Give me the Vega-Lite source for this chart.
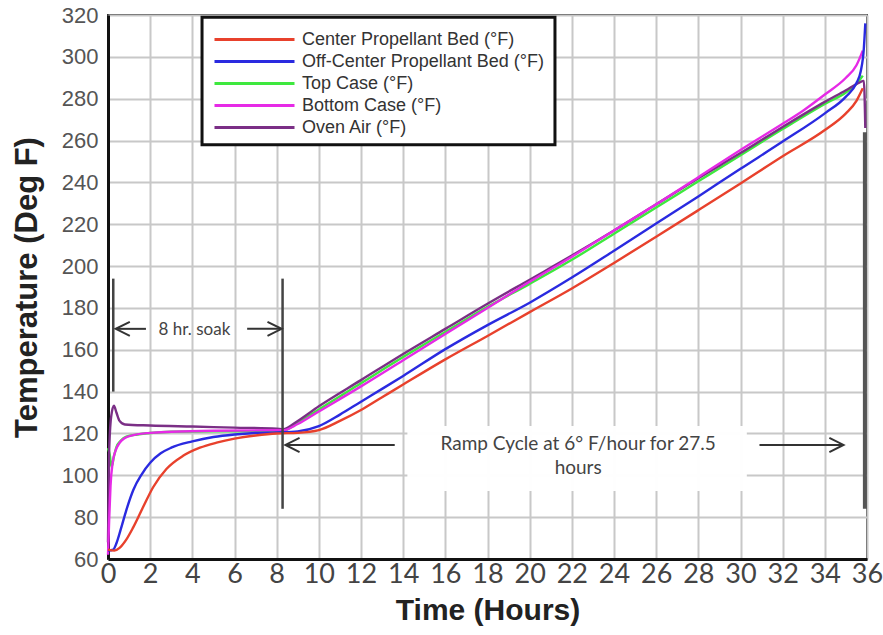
{
  "$schema": "https://vega.github.io/schema/vega-lite/v6.json",
  "width": 759,
  "height": 544,
  "autosize": "none",
  "padding": {"left": 108, "top": 15, "right": 16, "bottom": 76},
  "background": "white",
  "config": {
    "view": {"stroke": "#333", "strokeWidth": 2},
    "font": "Liberation Sans"
  },
  "datasets": {
    "temps": [
      {"t": 0, "temp": 113, "series": "Top Case (°F)"},
      {"t": 0.08, "temp": 110, "series": "Top Case (°F)"},
      {"t": 0.17, "temp": 104, "series": "Top Case (°F)"},
      {"t": 0.28, "temp": 109, "series": "Top Case (°F)"},
      {"t": 0.4, "temp": 113.5, "series": "Top Case (°F)"},
      {"t": 0.6, "temp": 116.5, "series": "Top Case (°F)"},
      {"t": 0.87, "temp": 118.5, "series": "Top Case (°F)"},
      {"t": 1.4, "temp": 119.5, "series": "Top Case (°F)"},
      {"t": 2, "temp": 120.2, "series": "Top Case (°F)"},
      {"t": 3, "temp": 120.8, "series": "Top Case (°F)"},
      {"t": 5, "temp": 121, "series": "Top Case (°F)"},
      {"t": 8, "temp": 121, "series": "Top Case (°F)"},
      {"t": 8.3, "temp": 121.2, "series": "Top Case (°F)"},
      {"t": 9, "temp": 125, "series": "Top Case (°F)"},
      {"t": 10, "temp": 131.5, "series": "Top Case (°F)"},
      {"t": 12, "temp": 144, "series": "Top Case (°F)"},
      {"t": 14, "temp": 156.5, "series": "Top Case (°F)"},
      {"t": 16, "temp": 168.5, "series": "Top Case (°F)"},
      {"t": 18, "temp": 180.5, "series": "Top Case (°F)"},
      {"t": 20, "temp": 191.5, "series": "Top Case (°F)"},
      {"t": 22, "temp": 203, "series": "Top Case (°F)"},
      {"t": 24, "temp": 215.5, "series": "Top Case (°F)"},
      {"t": 26, "temp": 228, "series": "Top Case (°F)"},
      {"t": 28, "temp": 240.5, "series": "Top Case (°F)"},
      {"t": 30, "temp": 253, "series": "Top Case (°F)"},
      {"t": 32, "temp": 265.5, "series": "Top Case (°F)"},
      {"t": 34, "temp": 277.5, "series": "Top Case (°F)"},
      {"t": 35, "temp": 283, "series": "Top Case (°F)"},
      {"t": 35.5, "temp": 287, "series": "Top Case (°F)"},
      {"t": 35.8, "temp": 291, "series": "Top Case (°F)"},

      {"t": 0, "temp": 68, "series": "Oven Air (°F)"},
      {"t": 0.05, "temp": 110, "series": "Oven Air (°F)"},
      {"t": 0.15, "temp": 128, "series": "Oven Air (°F)"},
      {"t": 0.28, "temp": 133.3, "series": "Oven Air (°F)"},
      {"t": 0.4, "temp": 130, "series": "Oven Air (°F)"},
      {"t": 0.55, "temp": 126, "series": "Oven Air (°F)"},
      {"t": 0.8, "temp": 124.3, "series": "Oven Air (°F)"},
      {"t": 2, "temp": 123.8, "series": "Oven Air (°F)"},
      {"t": 4, "temp": 123.3, "series": "Oven Air (°F)"},
      {"t": 6, "temp": 122.8, "series": "Oven Air (°F)"},
      {"t": 8, "temp": 122.3, "series": "Oven Air (°F)"},
      {"t": 8.3, "temp": 122, "series": "Oven Air (°F)"},
      {"t": 9, "temp": 126, "series": "Oven Air (°F)"},
      {"t": 10, "temp": 133, "series": "Oven Air (°F)"},
      {"t": 12, "temp": 145.5, "series": "Oven Air (°F)"},
      {"t": 14, "temp": 158, "series": "Oven Air (°F)"},
      {"t": 16, "temp": 170, "series": "Oven Air (°F)"},
      {"t": 18, "temp": 182, "series": "Oven Air (°F)"},
      {"t": 20, "temp": 193.5, "series": "Oven Air (°F)"},
      {"t": 22, "temp": 205, "series": "Oven Air (°F)"},
      {"t": 24, "temp": 217, "series": "Oven Air (°F)"},
      {"t": 26, "temp": 229.5, "series": "Oven Air (°F)"},
      {"t": 28, "temp": 242, "series": "Oven Air (°F)"},
      {"t": 30, "temp": 254, "series": "Oven Air (°F)"},
      {"t": 32, "temp": 266.5, "series": "Oven Air (°F)"},
      {"t": 34, "temp": 278.5, "series": "Oven Air (°F)"},
      {"t": 35, "temp": 284, "series": "Oven Air (°F)"},
      {"t": 35.6, "temp": 287.5, "series": "Oven Air (°F)"},
      {"t": 35.85, "temp": 288.5, "series": "Oven Air (°F)"},
      {"t": 35.92, "temp": 266, "series": "Oven Air (°F)"},

      {"t": 0, "temp": 62, "series": "Bottom Case (°F)"},
      {"t": 0.06, "temp": 80, "series": "Bottom Case (°F)"},
      {"t": 0.12, "temp": 95, "series": "Bottom Case (°F)"},
      {"t": 0.22, "temp": 106, "series": "Bottom Case (°F)"},
      {"t": 0.35, "temp": 111.5, "series": "Bottom Case (°F)"},
      {"t": 0.55, "temp": 115.5, "series": "Bottom Case (°F)"},
      {"t": 0.8, "temp": 117.8, "series": "Bottom Case (°F)"},
      {"t": 1.2, "temp": 119.2, "series": "Bottom Case (°F)"},
      {"t": 2, "temp": 120.3, "series": "Bottom Case (°F)"},
      {"t": 3, "temp": 120.8, "series": "Bottom Case (°F)"},
      {"t": 5, "temp": 121.3, "series": "Bottom Case (°F)"},
      {"t": 8, "temp": 121.5, "series": "Bottom Case (°F)"},
      {"t": 8.3, "temp": 121.5, "series": "Bottom Case (°F)"},
      {"t": 9, "temp": 124.5, "series": "Bottom Case (°F)"},
      {"t": 10, "temp": 130.5, "series": "Bottom Case (°F)"},
      {"t": 12, "temp": 142.5, "series": "Bottom Case (°F)"},
      {"t": 14, "temp": 155, "series": "Bottom Case (°F)"},
      {"t": 16, "temp": 167.5, "series": "Bottom Case (°F)"},
      {"t": 18, "temp": 180, "series": "Bottom Case (°F)"},
      {"t": 20, "temp": 192.5, "series": "Bottom Case (°F)"},
      {"t": 22, "temp": 204.5, "series": "Bottom Case (°F)"},
      {"t": 24, "temp": 217, "series": "Bottom Case (°F)"},
      {"t": 26, "temp": 229.5, "series": "Bottom Case (°F)"},
      {"t": 28, "temp": 242.5, "series": "Bottom Case (°F)"},
      {"t": 30, "temp": 255.5, "series": "Bottom Case (°F)"},
      {"t": 32, "temp": 268, "series": "Bottom Case (°F)"},
      {"t": 33, "temp": 274.5, "series": "Bottom Case (°F)"},
      {"t": 34, "temp": 282, "series": "Bottom Case (°F)"},
      {"t": 35, "temp": 290, "series": "Bottom Case (°F)"},
      {"t": 35.5, "temp": 296, "series": "Bottom Case (°F)"},
      {"t": 35.8, "temp": 303, "series": "Bottom Case (°F)"},

      {"t": 0, "temp": 64, "series": "Off-Center Propellant Bed (°F)"},
      {"t": 0.25, "temp": 64.5, "series": "Off-Center Propellant Bed (°F)"},
      {"t": 0.4, "temp": 67.5, "series": "Off-Center Propellant Bed (°F)"},
      {"t": 0.6, "temp": 74, "series": "Off-Center Propellant Bed (°F)"},
      {"t": 0.87, "temp": 83.4, "series": "Off-Center Propellant Bed (°F)"},
      {"t": 1.2, "temp": 93, "series": "Off-Center Propellant Bed (°F)"},
      {"t": 1.6, "temp": 100.5, "series": "Off-Center Propellant Bed (°F)"},
      {"t": 2, "temp": 106, "series": "Off-Center Propellant Bed (°F)"},
      {"t": 2.5, "temp": 110.5, "series": "Off-Center Propellant Bed (°F)"},
      {"t": 3, "temp": 113.2, "series": "Off-Center Propellant Bed (°F)"},
      {"t": 4, "temp": 116.2, "series": "Off-Center Propellant Bed (°F)"},
      {"t": 5, "temp": 118.3, "series": "Off-Center Propellant Bed (°F)"},
      {"t": 6, "temp": 119.5, "series": "Off-Center Propellant Bed (°F)"},
      {"t": 7, "temp": 120.2, "series": "Off-Center Propellant Bed (°F)"},
      {"t": 8, "temp": 120.5, "series": "Off-Center Propellant Bed (°F)"},
      {"t": 9, "temp": 121, "series": "Off-Center Propellant Bed (°F)"},
      {"t": 10, "temp": 123.5, "series": "Off-Center Propellant Bed (°F)"},
      {"t": 11, "temp": 129, "series": "Off-Center Propellant Bed (°F)"},
      {"t": 12, "temp": 135.2, "series": "Off-Center Propellant Bed (°F)"},
      {"t": 13, "temp": 141.3, "series": "Off-Center Propellant Bed (°F)"},
      {"t": 14, "temp": 147.5, "series": "Off-Center Propellant Bed (°F)"},
      {"t": 16, "temp": 160.3, "series": "Off-Center Propellant Bed (°F)"},
      {"t": 18, "temp": 171.8, "series": "Off-Center Propellant Bed (°F)"},
      {"t": 20, "temp": 182.5, "series": "Off-Center Propellant Bed (°F)"},
      {"t": 22, "temp": 194.5, "series": "Off-Center Propellant Bed (°F)"},
      {"t": 24, "temp": 207.3, "series": "Off-Center Propellant Bed (°F)"},
      {"t": 26, "temp": 220.3, "series": "Off-Center Propellant Bed (°F)"},
      {"t": 28, "temp": 233.3, "series": "Off-Center Propellant Bed (°F)"},
      {"t": 30, "temp": 246.5, "series": "Off-Center Propellant Bed (°F)"},
      {"t": 32, "temp": 259.5, "series": "Off-Center Propellant Bed (°F)"},
      {"t": 34, "temp": 273, "series": "Off-Center Propellant Bed (°F)"},
      {"t": 35, "temp": 281, "series": "Off-Center Propellant Bed (°F)"},
      {"t": 35.5, "temp": 287.5, "series": "Off-Center Propellant Bed (°F)"},
      {"t": 35.7, "temp": 293, "series": "Off-Center Propellant Bed (°F)"},
      {"t": 35.85, "temp": 304, "series": "Off-Center Propellant Bed (°F)"},
      {"t": 35.92, "temp": 316, "series": "Off-Center Propellant Bed (°F)"},

      {"t": 0, "temp": 64.5, "series": "Center Propellant Bed (°F)"},
      {"t": 0.3, "temp": 64, "series": "Center Propellant Bed (°F)"},
      {"t": 0.55, "temp": 65.3, "series": "Center Propellant Bed (°F)"},
      {"t": 0.85, "temp": 69, "series": "Center Propellant Bed (°F)"},
      {"t": 1.19, "temp": 75, "series": "Center Propellant Bed (°F)"},
      {"t": 1.66, "temp": 84.7, "series": "Center Propellant Bed (°F)"},
      {"t": 2.14, "temp": 94.3, "series": "Center Propellant Bed (°F)"},
      {"t": 2.77, "temp": 103, "series": "Center Propellant Bed (°F)"},
      {"t": 3.56, "temp": 109.3, "series": "Center Propellant Bed (°F)"},
      {"t": 4.36, "temp": 113.2, "series": "Center Propellant Bed (°F)"},
      {"t": 5.15, "temp": 115.6, "series": "Center Propellant Bed (°F)"},
      {"t": 6, "temp": 117.5, "series": "Center Propellant Bed (°F)"},
      {"t": 7, "temp": 119, "series": "Center Propellant Bed (°F)"},
      {"t": 8, "temp": 120, "series": "Center Propellant Bed (°F)"},
      {"t": 9, "temp": 120.3, "series": "Center Propellant Bed (°F)"},
      {"t": 10, "temp": 121.6, "series": "Center Propellant Bed (°F)"},
      {"t": 11, "temp": 126, "series": "Center Propellant Bed (°F)"},
      {"t": 12, "temp": 131.2, "series": "Center Propellant Bed (°F)"},
      {"t": 13, "temp": 137.3, "series": "Center Propellant Bed (°F)"},
      {"t": 14, "temp": 143.4, "series": "Center Propellant Bed (°F)"},
      {"t": 16, "temp": 155.4, "series": "Center Propellant Bed (°F)"},
      {"t": 18, "temp": 166.6, "series": "Center Propellant Bed (°F)"},
      {"t": 20, "temp": 178, "series": "Center Propellant Bed (°F)"},
      {"t": 22, "temp": 189.3, "series": "Center Propellant Bed (°F)"},
      {"t": 24, "temp": 201.5, "series": "Center Propellant Bed (°F)"},
      {"t": 26, "temp": 214, "series": "Center Propellant Bed (°F)"},
      {"t": 28, "temp": 226.7, "series": "Center Propellant Bed (°F)"},
      {"t": 30, "temp": 239.5, "series": "Center Propellant Bed (°F)"},
      {"t": 32, "temp": 252.5, "series": "Center Propellant Bed (°F)"},
      {"t": 34, "temp": 265, "series": "Center Propellant Bed (°F)"},
      {"t": 35, "temp": 273, "series": "Center Propellant Bed (°F)"},
      {"t": 35.5, "temp": 279, "series": "Center Propellant Bed (°F)"},
      {"t": 35.8, "temp": 285, "series": "Center Propellant Bed (°F)"}
    ],
    "legendframe": [
      {"t1": 4.46, "t2": 21.2, "lo": 258, "hi": 318.9}
    ],
    "vlines": [
      {"t": 0.25, "lo": 140, "hi": 194},
      {"t": 8.28, "lo": 84, "hi": 194},
      {"t": 35.9, "lo": 84, "hi": 264}
    ],
    "shafts": [
      {"t1": 0.4, "t2": 1.8, "temp": 170},
      {"t1": 6.6, "t2": 8.2, "temp": 170},
      {"t1": 8.45, "t2": 13.6, "temp": 114.5},
      {"t1": 30.9, "t2": 34.85, "temp": 114.5}
    ],
    "heads": [
      {"t": 0.7, "temp": 170, "dir": "left"},
      {"t": 7.9, "temp": 170, "dir": "right"},
      {"t": 8.75, "temp": 114.5, "dir": "left"},
      {"t": 34.55, "temp": 114.5, "dir": "right"}
    ],
    "box": [
      {"t1": 14.2, "t2": 30.3, "lo": 92.5, "hi": 123.6}
    ],
    "labels": [
      {"t": 4.1, "temp": 169.6, "text": "8 hr. soak", "size": "small"},
      {"t": 22.3, "temp": 115, "text": "Ramp Cycle at 6° F/hour for 27.5", "size": "big"},
      {"t": 22.3, "temp": 103.5, "text": "hours", "size": "big"}
    ]
  },
  "layer": [
    {
      "data": {"name": "box"},
      "mark": {"type": "rect", "fill": "white", "opacity": 0.97},
      "encoding": {
        "x": {"field": "t1", "type": "quantitative", "scale": {"domain": [0, 36], "nice": false},
          "axis": {
            "values": [0,2,4,6,8,10,12,14,16,18,20,22,24,26,28,30,32,34,36],
            "grid": true, "gridColor": "#c8c8c8", "gridWidth": 2,
            "domainColor": "#111", "domainWidth": 3, "ticks": false,
            "labelFont": "Lato", "labelFontSize": 27, "labelColor": "#444", "labelPadding": 2,
            "labelFlush": false,
            "title": "Time (Hours)", "titleFont": "Liberation Sans", "titleFontSize": 30,
            "titleFontWeight": "bold", "titleColor": "#222", "titlePadding": 8
          }},
        "x2": {"field": "t2"},
        "y": {"field": "lo", "type": "quantitative", "scale": {"domain": [60, 320], "nice": false},
          "axis": {
            "values": [60,80,100,120,140,160,180,200,220,240,260,280,300,320],
            "grid": true, "gridColor": "#c8c8c8", "gridWidth": 2,
            "domainColor": "#111", "domainWidth": 3, "ticks": false,
            "labelFont": "Liberation Sans", "labelFontSize": 22, "labelColor": "#555", "labelPadding": 10,
            "labelFlush": false,
            "title": "Temperature (Deg F)", "titleFont": "Liberation Sans", "titleFontSize": 31,
            "titleFontWeight": "bold", "titleColor": "#222", "titlePadding": 18
          }},
        "y2": {"field": "hi"}
      }
    },
    {
      "data": {"name": "legendframe"},
      "mark": {"type": "rect", "fill": "white", "stroke": "#111", "strokeWidth": 3},
      "encoding": {
        "x": {"field": "t1", "type": "quantitative"},
        "x2": {"field": "t2"},
        "y": {"field": "lo", "type": "quantitative"},
        "y2": {"field": "hi"}
      }
    },
    {
      "data": {"name": "temps"},
      "mark": {"type": "line", "strokeWidth": 2.4, "interpolate": "monotone"},
      "encoding": {
        "x": {"field": "t", "type": "quantitative"},
        "y": {"field": "temp", "type": "quantitative"},
        "color": {
          "field": "series", "type": "nominal",
          "scale": {
            "domain": ["Center Propellant Bed (°F)", "Off-Center Propellant Bed (°F)", "Top Case (°F)", "Bottom Case (°F)", "Oven Air (°F)"],
            "range": ["#e8412c", "#2a2ae0", "#3ee83e", "#e62ae6", "#7b2f86"]
          },
          "legend": {
            "orient": "none", "legendX": 94, "legendY": 2,
            "title": null, "symbolType": "M-1,0L7,0", "symbolSize": 400, "symbolStrokeWidth": 3,
            "labelFont": "Liberation Sans", "labelFontSize": 18, "labelColor": "#333", "labelLimit": 400,
            "labelOffset": 66, "rowPadding": 1,
            "padding": 11
          }
        }
      }
    },
    {
      "data": {"name": "vlines"},
      "transform": [{"filter": "datum.t < 30"}],
      "mark": {"type": "rule", "color": "#444", "strokeWidth": 2.5},
      "encoding": {
        "x": {"field": "t", "type": "quantitative"},
        "y": {"field": "lo", "type": "quantitative"},
        "y2": {"field": "hi"}
      }
    },
    {
      "data": {"name": "vlines"},
      "transform": [{"filter": "datum.t > 30"}],
      "mark": {"type": "rule", "color": "#555", "strokeWidth": 4},
      "encoding": {
        "x": {"field": "t", "type": "quantitative"},
        "y": {"field": "lo", "type": "quantitative"},
        "y2": {"field": "hi"}
      }
    },
    {
      "data": {"name": "shafts"},
      "mark": {"type": "rule", "color": "#333", "strokeWidth": 2},
      "encoding": {
        "x": {"field": "t1", "type": "quantitative"},
        "x2": {"field": "t2"},
        "y": {"field": "temp", "type": "quantitative"}
      }
    },
    {
      "data": {"name": "heads"},
      "transform": [{"filter": "datum.dir == 'left'"}],
      "mark": {"type": "point", "shape": "M1,-1L-1,0L1,1", "filled": false, "size": 200, "color": "#333", "strokeWidth": 2, "opacity": 1},
      "encoding": {
        "x": {"field": "t", "type": "quantitative"},
        "y": {"field": "temp", "type": "quantitative"}
      }
    },
    {
      "data": {"name": "heads"},
      "transform": [{"filter": "datum.dir == 'right'"}],
      "mark": {"type": "point", "shape": "M-1,-1L1,0L-1,1", "filled": false, "size": 200, "color": "#333", "strokeWidth": 2, "opacity": 1},
      "encoding": {
        "x": {"field": "t", "type": "quantitative"},
        "y": {"field": "temp", "type": "quantitative"}
      }
    },
    {
      "data": {"name": "labels"},
      "transform": [{"filter": "datum.size == 'small'"}],
      "mark": {"type": "text", "font": "Lato", "fontSize": 17, "color": "#444", "align": "center", "baseline": "middle"},
      "encoding": {
        "x": {"field": "t", "type": "quantitative"},
        "y": {"field": "temp", "type": "quantitative"},
        "text": {"field": "text"}
      }
    },
    {
      "data": {"name": "labels"},
      "transform": [{"filter": "datum.size == 'big'"}],
      "mark": {"type": "text", "font": "Lato", "fontSize": 19, "color": "#444", "align": "center", "baseline": "middle"},
      "encoding": {
        "x": {"field": "t", "type": "quantitative"},
        "y": {"field": "temp", "type": "quantitative"},
        "text": {"field": "text"}
      }
    }
  ]
}
